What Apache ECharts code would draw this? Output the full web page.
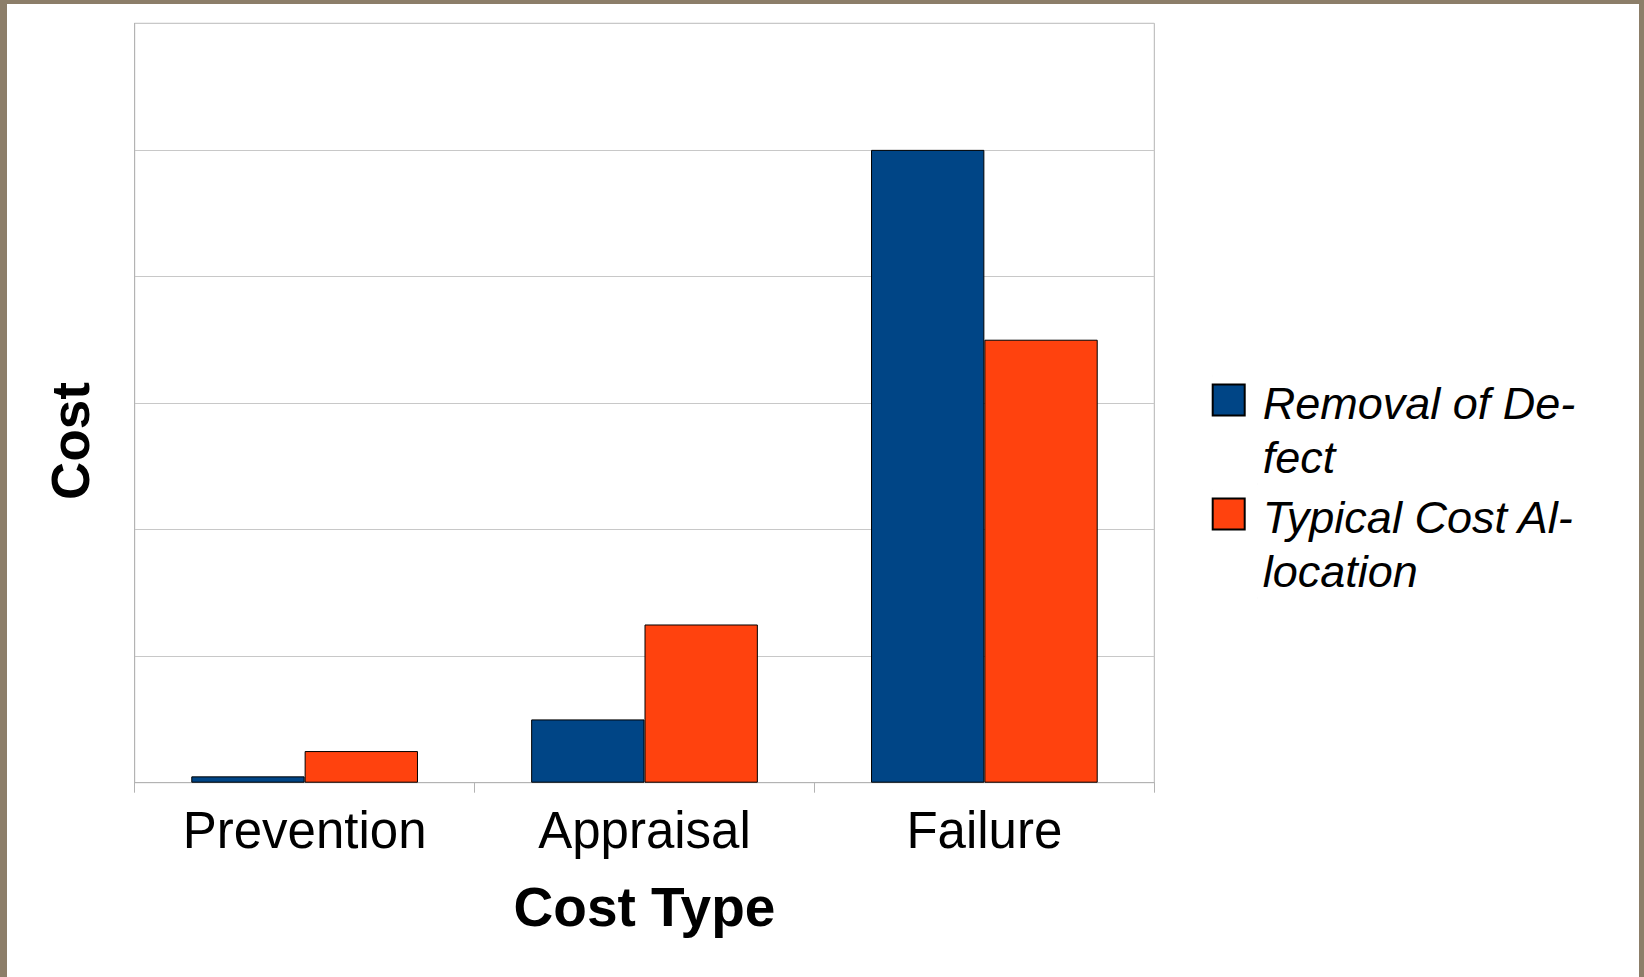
<!DOCTYPE html>
<html>
<head>
<meta charset="utf-8">
<script src="https://cdn.jsdelivr.net/npm/echarts@6/dist/echarts.min.js"></script>
<style>
  html, body { margin: 0; padding: 0; width: 1644px; height: 977px; background: #8c7e69; overflow: hidden; }
  #chart { position: absolute; left: 7px; top: 4px; width: 1632px; height: 973px; background: #ffffff; }
</style>
</head>
<body>
<div id="chart"></div>
<script>
const categories = ['Prevention', 'Appraisal', 'Failure'];
const seriesNames = ['Removal of Defect', 'Typical Cost Allocation'];
const legendLabels = ['Removal of De-\nfect', 'Typical Cost Al-\nlocation'];
const removalOfDefect = [0.05, 0.5, 5.0];
const typicalCostAllocation = [0.25, 1.25, 3.5];
const yTicks = [0, 1, 2, 3, 4, 5, 6];

const FONT = '"Liberation Sans", Arial, Helvetica, sans-serif';
const legendIcon = 'path://M0,0h0.01M0,8.5h32v31h-32zM44.99,108h0.01';

const chart = echarts.init(document.getElementById('chart'), null, { renderer: 'svg' });
chart.setOption({
  backgroundColor: '#ffffff',
  animation: false,
  grid: {
    left: 127.7, top: 19.3, width: 1019.6, height: 759.4,
    show: true, borderColor: '#b3b3b3', borderWidth: 1, backgroundColor: 'transparent'
  },
  legend: {
    orient: 'vertical',
    left: 1199.7,
    top: 366,
    itemWidth: 45,
    itemHeight: 108,
    itemGap: 4,
    icon: legendIcon,
    data: seriesNames,
    formatter: function (name) { return legendLabels[seriesNames.indexOf(name)]; },
    textStyle: { fontFamily: FONT, fontStyle: 'italic', fontSize: 45, lineHeight: 54, color: '#000000' }
  },
  xAxis: {
    type: 'category',
    data: categories,
    name: 'Cost Type',
    nameLocation: 'middle',
    nameGap: 97,
    nameTextStyle: { fontFamily: FONT, fontWeight: 'bold', fontSize: 55, color: '#000000' },
    axisLine: { show: true, lineStyle: { color: '#b3b3b3', width: 1 } },
    axisTick: { show: true, length: 10, lineStyle: { color: '#b3b3b3', width: 1 } },
    axisLabel: { margin: 22, fontFamily: FONT, fontSize: 51, color: '#000000' },
    splitLine: { show: false }
  },
  yAxis: {
    type: 'value',
    min: yTicks[0],
    max: yTicks[yTicks.length - 1],
    interval: 1,
    name: 'Cost',
    nameLocation: 'middle',
    nameRotate: 90,
    nameGap: 37.5,
    nameTextStyle: { fontFamily: FONT, fontWeight: 'bold', fontSize: 53, color: '#000000', padding: [0, 76, 0, 0] },
    axisLine: { show: true, lineStyle: { color: '#b3b3b3', width: 1 } },
    axisTick: { show: false },
    axisLabel: { show: false },
    splitLine: { show: true, lineStyle: { color: '#c8c8c8', width: 1 } }
  },
  series: [
    {
      name: seriesNames[0],
      type: 'bar',
      data: removalOfDefect,
      barGap: '0%',
      barCategoryGap: '33.3%',
      itemStyle: { color: '#004586', borderColor: '#000000', borderWidth: 1 }
    },
    {
      name: seriesNames[1],
      type: 'bar',
      data: typicalCostAllocation,
      barGap: '0%',
      barCategoryGap: '33.3%',
      itemStyle: { color: '#ff420e', borderColor: '#000000', borderWidth: 1 }
    }
  ]
});
</script>
</body>
</html>
